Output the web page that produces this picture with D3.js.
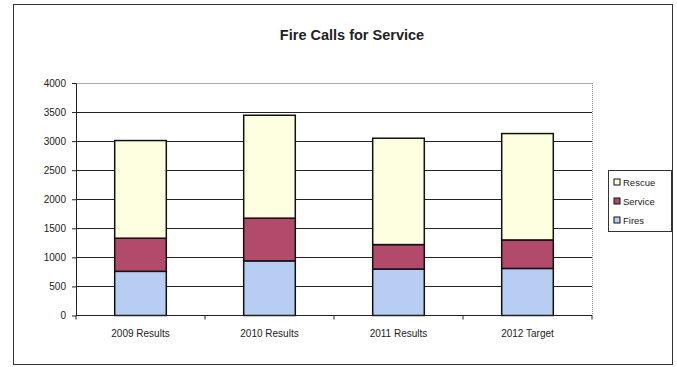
<!DOCTYPE html>
<html>
<head>
<meta charset="utf-8">
<script src="https://cdn.jsdelivr.net/npm/d3@7"></script>
<style>
  body { margin: 0; background: #fff; }
  text { font-family: "Liberation Sans", Arial, sans-serif; }
</style>
</head>
<body>
<div id="sandbox"></div>
<script>
// Data
const categories = ["2009 Results", "2010 Results", "2011 Results", "2012 Target"];
const fires = [760, 940, 800, 810];
const service = [570, 735, 420, 490];
const rescue = [1680, 1770, 1830, 1830];
const seriesNames = ["Fires", "Service", "Rescue"];
const yTicks = [0, 500, 1000, 1500, 2000, 2500, 3000, 3500, 4000];

const colors = { Fires: "#b7cdf2", Service: "#b24a6c", Rescue: "#fefee0" };

const width = 677;
const height = 367;

const svg = d3.select("#sandbox")
    .append("svg")
    .attr("width", width)
    .attr("height", height);

// outer chart frame
svg.append("rect")
    .attr("x", 13.5).attr("y", 4.5)
    .attr("width", 659).attr("height", 360)
    .attr("fill", "#fff")
    .attr("stroke", "#333")
    .attr("stroke-width", 1);

// title
svg.append("text")
    .attr("x", 352).attr("y", 40)
    .attr("text-anchor", "middle")
    .attr("font-size", 14.5)
    .attr("font-weight", "bold")
    .attr("fill", "#222")
    .text("Fire Calls for Service");

const plot = { left: 76, right: 592, top: 83, bottom: 315.5 };

const x = d3.scaleBand()
    .domain(categories)
    .range([plot.left, plot.right])
    .paddingInner(0.6)
    .paddingOuter(0.3);

const y = d3.scaleLinear()
    .domain([0, 4000])
    .range([plot.bottom, plot.top]);

// table for stacking
const table = categories.map((c, i) => ({
    cat: c, Fires: fires[i], Service: service[i], Rescue: rescue[i]
}));
const stacked = d3.stack().keys(seriesNames)(table);

// gridlines
svg.append("g")
    .selectAll("line")
    .data(yTicks.slice(1))
    .enter()
    .append("line")
    .attr("x1", plot.left).attr("x2", plot.right)
    .attr("y1", d => Math.round(y(d)) + 0.5)
    .attr("y2", d => Math.round(y(d)) + 0.5)
    .attr("stroke", d => d === 4000 ? "#aaa" : "#222")
    .attr("stroke-width", 1);

// right edge of plot area
svg.append("line")
    .attr("x1", plot.right + 0.5).attr("x2", plot.right + 0.5)
    .attr("y1", plot.top).attr("y2", plot.bottom)
    .attr("stroke", "#888")
    .attr("stroke-dasharray", "1,1");

// bars
svg.append("g")
    .selectAll("g")
    .data(stacked)
    .enter()
    .append("g")
    .attr("fill", d => colors[d.key])
    .selectAll("rect")
    .data(d => d)
    .enter()
    .append("rect")
    .attr("x", d => x(d.data.cat))
    .attr("y", d => y(d[1]))
    .attr("width", x.bandwidth())
    .attr("height", d => y(d[0]) - y(d[1]))
    .attr("stroke", "#111")
    .attr("stroke-width", 1.5);

// y axis
const yAxis = svg.append("g")
    .attr("transform", `translate(${plot.left},0)`)
    .call(d3.axisLeft(y).tickValues(yTicks).tickSize(4).tickSizeOuter(0).tickFormat(d3.format("d")));
yAxis.select(".domain").attr("stroke", "#222");
yAxis.selectAll(".tick line").attr("stroke", "#222");
yAxis.selectAll("text")
    .attr("font-size", 10)
    .attr("fill", "#222")
    .attr("dx", -3);

// x axis (ticks between categories)
const step = x.step();
const xAxis = svg.append("g")
    .attr("transform", `translate(0,${plot.bottom})`);
xAxis.append("line")
    .attr("x1", plot.left).attr("x2", plot.right)
    .attr("stroke", "#222");
xAxis.selectAll(".sep")
    .data(d3.range(categories.length + 1))
    .enter()
    .append("line")
    .attr("x1", i => plot.left + i * (plot.right - plot.left) / categories.length)
    .attr("x2", i => plot.left + i * (plot.right - plot.left) / categories.length)
    .attr("y1", 0).attr("y2", 4)
    .attr("stroke", "#222");
xAxis.selectAll(".lbl")
    .data(categories)
    .enter()
    .append("text")
    .attr("x", d => x(d) + x.bandwidth() / 2)
    .attr("y", 21)
    .attr("text-anchor", "middle")
    .attr("font-size", 10)
    .attr("fill", "#222")
    .text(d => d);

// legend
const legend = svg.append("g").attr("transform", "translate(608,170)");
legend.append("rect")
    .attr("x", 0.5).attr("y", 0.5)
    .attr("width", 63).attr("height", 61)
    .attr("fill", "#fff")
    .attr("stroke", "#333");
const legendOrder = ["Rescue", "Service", "Fires"];
const item = legend.selectAll(".item")
    .data(legendOrder)
    .enter()
    .append("g")
    .attr("transform", (d, i) => `translate(6,${13 + i * 19})`);
item.append("rect")
    .attr("x", 0).attr("y", -4)
    .attr("width", 6).attr("height", 6)
    .attr("fill", d => colors[d])
    .attr("stroke", "#111");
item.append("text")
    .attr("x", 9).attr("y", 3)
    .attr("font-size", 9.5)
    .attr("fill", "#222")
    .text(d => d);
</script>
</body>
</html>
